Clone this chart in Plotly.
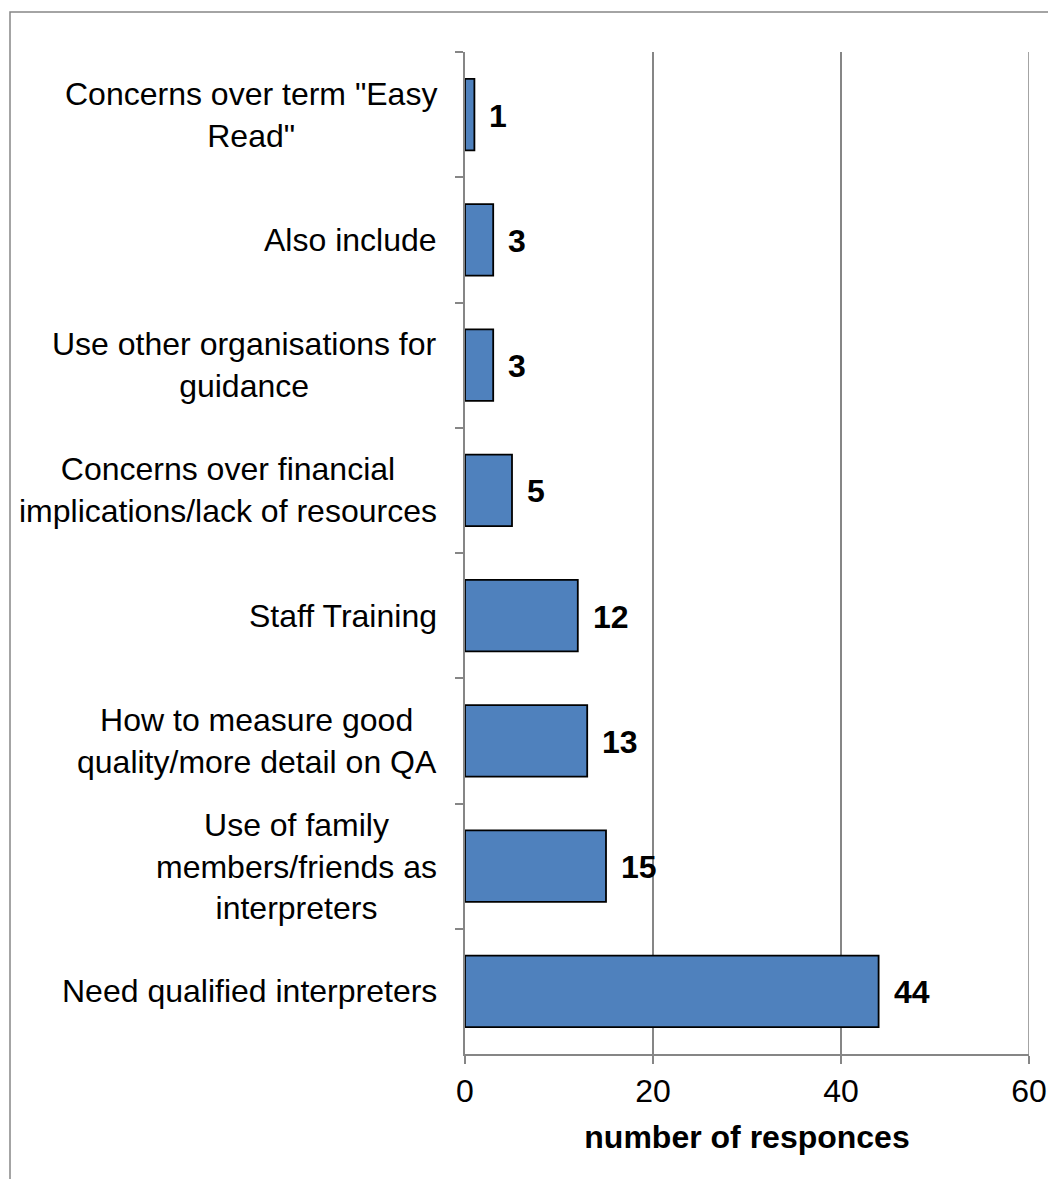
import plotly.graph_objects as go

categories = [
    'Concerns over term "Easy<br>Read"',
    "Also include",
    "Use other organisations for<br>guidance",
    "Concerns over financial<br>implications/lack of resources",
    "Staff Training",
    "How to measure good<br>quality/more detail on QA",
    "Use of family<br>members/friends as<br>interpreters",
    "Need qualified interpreters",
]
values = [1, 3, 3, 5, 12, 13, 15, 44]
x_ticks = [0, 20, 40, 60]
x_title = "number of responces"

FONT = "Liberation Sans, Arial, sans-serif"
FS = 32
GRID = "#868686"

fig = go.Figure()
fig.add_trace(go.Bar(
    x=values, y=categories, orientation="h",
    marker=dict(color="#4F81BD", line=dict(color="black", width=1.8)),
    width=0.57, hoverinfo="skip",
))

# category labels (centered multi-line, right-anchored)
for c in categories:
    fig.add_annotation(x=0, y=c, xref="x", yref="y", text=c, showarrow=False,
                       xanchor="right", align="center", xshift=-26,
                       font=dict(family=FONT, size=FS, color="black"))
# data labels
for c, v in zip(categories, values):
    fig.add_annotation(x=v, y=c, xref="x", yref="y", text=f"<b>{v}</b>", showarrow=False,
                       xanchor="left", xshift=13, yshift=-1,
                       font=dict(family=FONT, size=FS, color="black"))

# gridline at the range end (plotly clips the edge gridline)
fig.add_shape(type="line", xref="x", yref="paper", x0=x_ticks[-1], x1=x_ticks[-1],
              y0=0, y1=1, line=dict(color=GRID, width=1.5), layer="below")

# outer chart border (left and top visible)
fig.add_shape(type="rect", xref="paper", yref="paper",
              x0=(10 - 465) / 564, x1=1.2, y0=-0.3, y1=1 + (52 - 12) / 1002,
              line=dict(color=GRID, width=1.5), layer="below")

fig.update_layout(
    width=1048, height=1179,
    margin=dict(l=465, r=19, t=52, b=125),
    paper_bgcolor="white", plot_bgcolor="white",
    showlegend=False, bargap=0.43,
    font=dict(family=FONT, size=FS, color="black"),
)
fig.update_xaxes(
    range=[0, 60], tickvals=x_ticks, ticktext=[str(t) for t in x_ticks],
    showgrid=True, gridcolor=GRID, gridwidth=1.5,
    showline=True, linecolor=GRID, linewidth=1.5,
    ticks="outside", ticklen=8, tickcolor=GRID, tickwidth=1.5,
    tickfont=dict(family=FONT, size=FS, color="black"),
    title=dict(text=f"<b>{x_title}</b>", font=dict(family=FONT, size=FS, color="black"), standoff=17),
    zeroline=False, automargin=False,
)
fig.update_yaxes(
    autorange="reversed", showticklabels=False,
    showline=True, linecolor=GRID, linewidth=1.5,
    ticks="outside", ticklen=8, tickcolor=GRID, tickwidth=1.5,
    tickson="boundaries", showgrid=False, automargin=False,
)

fig.write_html("out.html", config={"displayModeBar": False},
               post_script="document.body.style.margin='0';document.body.style.overflow='hidden';")
